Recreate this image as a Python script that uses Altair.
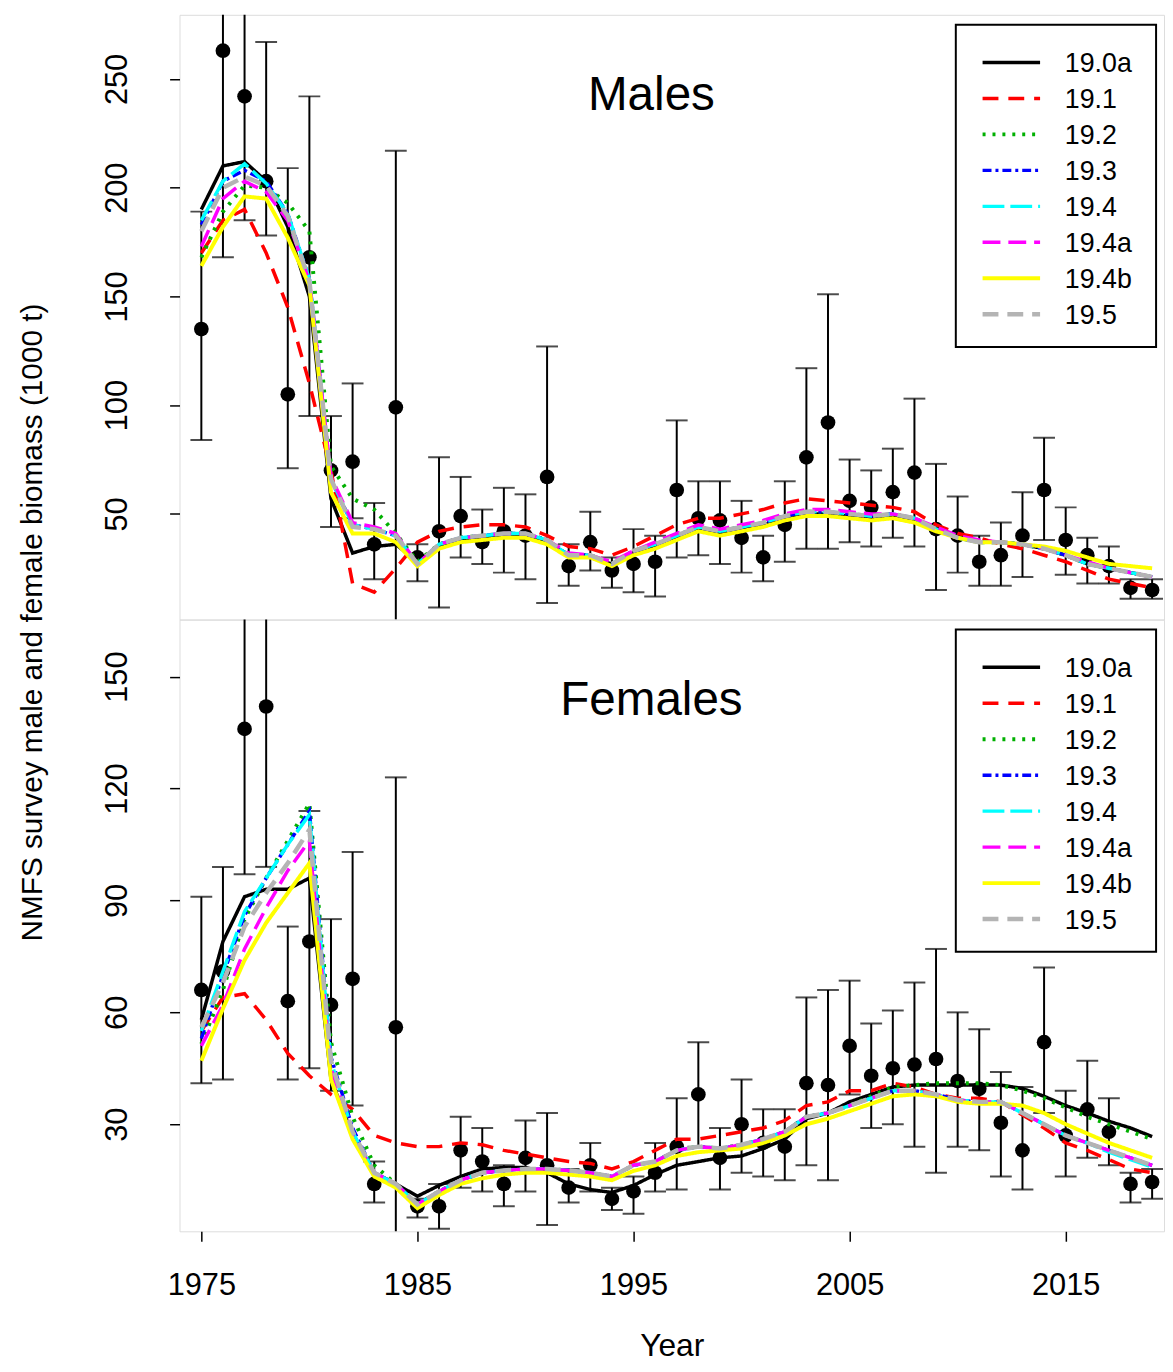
import altair as alt
import pandas as pd

years = list(range(1975, 2020))
names = ["19.0a", "19.1", "19.2", "19.3", "19.4", "19.4a", "19.4b", "19.5"]
colors = ["#000000", "#ff0000", "#00b000", "#0000ff", "#00ffff", "#ff00ff", "#ffff00", "#b4b4b4"]
dashes = [[1, 0], [16, 10], [3, 7], [9, 4, 3, 4], [22, 6], [18, 8], [1, 0], [16, 9]]
widths = [3.5, 3.5, 4, 3.5, 3.5, 3.5, 4, 4.5]

# Males survey observations and CIs
m_obs = [135, 263, 242, 203, 105, 168, 70, 74, 36, 99, 30, 42, 49, 37, 42, 40, 67, 26, 37, 24, 27, 28,
         61, 48, 47, 39, 30, 45, 76, 92, 56, 53, 60, 69, 43, 40, 28, 31, 40, 61, 38, 31, 26, 16, 15]
m_lo = [84, 168, 185, 178, 71, 95, 44, 48, 20, 0, 19, 7, 30, 27, 23, 20, 9, 17, 24, 16, 14, 12,
        30, 31, 27, 23, 19, 28, 34, 34, 37, 35, 39, 35, 15, 23, 17, 17, 21, 38, 22, 18, 18, 11, 11]
m_hi = [189, 300, 300, 267, 209, 242, 95, 110, 55, 217, 36, 76, 67, 52, 62, 59, 127, 36, 51, 30, 43, 40,
        93, 65, 65, 56, 40, 65, 117, 151, 75, 70, 80, 103, 73, 58, 40, 46, 60, 85, 53, 39, 35, 20, 20]

m_190a = [190, 210, 212, 203, 182, 150, 57, 32, 35, 36, 28, 35, 38, 39, 40, 40, 37, 31, 30, 27, 32, 35,
          39, 43, 41, 43, 45, 48, 50, 50, 49, 48, 49, 47, 43, 39, 37, 37, 36, 34, 31, 27, 25, 23, 21]
m_191 = [170, 185, 190, 170, 145, 110, 70, 18, 14, 25, 37, 42, 44, 45, 45, 44, 40, 35, 34, 31, 35, 40,
         45, 48, 48, 50, 52, 55, 57, 56, 55, 54, 53, 51, 45, 41, 39, 36, 34, 31, 28, 24, 20, 18, 16]
m_192 = [168, 189, 201, 200, 193, 180, 72, 57, 52, 41, 28, 36, 39, 40, 41, 41, 38, 31, 31, 27, 33, 36,
         40, 44, 42, 44, 46, 49, 51, 51, 50, 49, 50, 48, 43, 39, 37, 37, 36, 34, 31, 27, 25, 23, 21]
m_193 = [183, 203, 208, 203, 188, 158, 66, 45, 43, 40, 27, 36, 39, 40, 41, 41, 38, 31, 31, 27, 33, 36,
         40, 44, 42, 44, 46, 49, 51, 51, 50, 49, 50, 48, 43, 39, 37, 37, 36, 34, 31, 27, 25, 23, 21]
m_194 = [185, 203, 211, 202, 188, 158, 66, 45, 43, 40, 27, 36, 39, 40, 41, 41, 38, 31, 31, 27, 33, 36,
         40, 44, 42, 44, 46, 49, 51, 51, 50, 49, 50, 48, 43, 39, 37, 37, 36, 34, 31, 27, 25, 23, 21]
m_194a = [173, 195, 203, 198, 185, 157, 67, 46, 44, 41, 27, 36, 39, 40, 41, 41, 38, 32, 31, 28, 33, 37,
          41, 45, 43, 45, 47, 50, 52, 52, 51, 50, 50, 48, 44, 40, 38, 37, 36, 34, 31, 28, 25, 23, 21]
m_194b = [164, 182, 196, 195, 177, 155, 60, 41, 41, 37, 26, 34, 37, 38, 39, 39, 36, 30, 30, 26, 31, 34,
          38, 42, 40, 42, 44, 47, 49, 49, 48, 47, 48, 46, 42, 39, 37, 37, 36, 35, 33, 30, 27, 26, 25]
m_195 = [180, 200, 205, 201, 187, 157, 66, 44, 43, 40, 27, 36, 39, 40, 41, 41, 38, 31, 31, 27, 33, 36,
         40, 44, 42, 44, 46, 49, 51, 51, 50, 49, 50, 48, 43, 39, 37, 37, 36, 34, 31, 27, 25, 23, 21]

# Females
f_obs = [66, 71, 136, 142, 63, 79, 62, 69, 14, 56, 8, 8, 23, 20, 14, 21, 19, 13, 19, 10, 12, 17,
         24, 38, 21, 30, 25, 24, 41, 40.5, 51, 43, 45, 46, 47.5, 41.6, 39.5, 30.4, 23, 52, 27, 34, 28, 14, 14.5]
f_lo = [41, 42, 97, 99, 42, 45, 39, 35, 9, 0, 5, 2, 13, 12, 8, 12, 3, 9, 12, 7, 6, 12,
        12.5, 24, 12.5, 17, 16, 15, 19, 15, 38, 29, 30, 24, 17, 24, 23, 16, 12.5, 33, 16, 21, 19, 9, 10]
f_hi = [91, 99, 180, 180, 83, 114, 85, 103, 20, 123, 10, 14, 32, 29, 19, 31, 33, 18, 25, 13, 16, 25,
        37, 52, 29, 42, 34, 34, 64, 66, 68.5, 57, 60.5, 68, 77, 60, 55.5, 44, 40, 72, 39, 47, 37, 17, 18]

f_190a = [58, 79, 91, 93, 93, 96, 42, 27, 17, 14, 10.7, 13.6, 16, 18, 18.4, 18.4, 17, 14, 12.5, 11.7, 13.6, 16.5,
          19, 20, 21, 21.5, 23.5, 26, 31.5, 33, 36, 38, 40, 40.5, 40.5, 40.5, 40.5, 40.5, 39.6, 37.5, 35, 33, 30.8, 29, 26.7]
f_191 = [55, 64, 65, 58, 49, 43, 38, 34, 27, 25, 24, 24, 25, 24.5, 23, 22, 21, 20, 19.5, 18, 20, 23,
         26, 26, 27, 28, 29, 31, 35, 36, 39, 39, 41, 40, 38, 37, 37, 36, 32.5, 29, 25, 23, 20.5, 18, 17]
f_192 = [51.5, 66, 85, 96, 106, 116, 52, 32, 19, 14, 8.5, 12, 15, 17, 17.6, 18, 18, 17.6, 17, 16, 19, 20,
         23, 24, 23.5, 24.5, 26, 28, 32, 33, 35, 37.5, 40, 40.5, 41, 41, 41, 40.5, 39, 37, 34.5, 32, 30, 28, 26]
f_193 = [53, 70, 86, 96, 105, 114, 48, 29, 17, 14, 8.5, 12, 15, 17, 17.6, 18, 18, 17.6, 17, 16, 19, 20,
         23, 24, 23.5, 24.5, 26, 28, 32, 33, 35, 37, 39, 39, 38, 36.5, 36, 36, 33, 30, 27, 25, 23, 21, 19]
f_194 = [55, 71, 87, 96, 105, 113, 47, 28, 17, 14, 8.5, 12, 15, 17, 17.6, 18, 18, 17.6, 17, 16, 19, 20,
         23, 24, 23.5, 24.5, 26, 28, 32, 33, 35, 37, 39, 39, 38, 36.5, 36, 36, 33, 30, 27, 25, 22.5, 20.5, 18.5]
f_194a = [51, 62, 77, 88, 98, 106, 45, 27, 17, 14, 8.5, 12, 15, 17, 17.6, 18, 18, 17.6, 17, 16, 19, 20,
          23, 24, 23.5, 24.5, 26, 28, 32, 33, 35, 37, 39, 39, 38, 36.5, 36, 36, 33, 30, 27, 25, 23, 21, 19]
f_194b = [47, 61, 74, 84, 92, 100, 42, 26, 16, 13, 7.5, 11, 14, 15.5, 16.5, 17, 17, 16.5, 16, 15, 17.5, 19,
          21.5, 22.5, 23, 23.5, 25, 27, 30, 31.5, 33.5, 35.5, 37.5, 38, 37.5, 36, 35.5, 35.5, 35, 33, 30, 27.5, 25, 23, 21]
f_195 = [56, 68, 83, 92, 100, 109, 47, 28, 17, 14, 8.5, 12, 15, 17, 17.6, 18, 18, 17.6, 17, 16, 19, 20,
         23, 24, 23.5, 24.5, 26, 28, 32, 33, 35, 37, 39, 39, 38, 36.5, 36, 36, 33, 30, 27, 25, 23, 21, 19]

m_models = [m_190a, m_191, m_192, m_193, m_194, m_194a, m_194b, m_195]
f_models = [f_190a, f_191, f_192, f_193, f_194, f_194a, f_194b, f_195]

W, H1, H2 = 993, 610, 617
FONT = "Liberation Sans"
xdom = [1973.99, 2019.55]


def panel(obs, lo, hi, models, ydom, yticks, title, h, show_x, ylab):
    obs_df = pd.DataFrame({"year": years, "obs": obs, "lo": lo, "hi": hi})
    xenc = alt.X("year:Q", scale=alt.Scale(domain=xdom, nice=False, zero=False),
                 axis=alt.Axis(values=[1975, 1985, 1995, 2005, 2015], format="d", title="Year" if show_x else None,
                               labels=show_x, ticks=show_x, domain=False, grid=False,
                               labelFontSize=31, titleFontSize=32, tickSize=10, labelPadding=30,
                               titlePadding=30, tickColor="black", tickWidth=1.5, labelColor="black",
                               titleColor="black", titleFontWeight="normal", labelFont=FONT, titleFont=FONT))
    yscale = alt.Scale(domain=ydom, nice=False, zero=False)
    yaxis = alt.Axis(values=yticks, title=None, domain=False, grid=False, labelAngle=270,
                     labelAlign="center", labelBaseline="bottom", labelFontSize=31, tickSize=10,
                     labelPadding=36, tickColor="black", tickWidth=1.5, labelColor="black", labelFont=FONT)
    layers = []
    rows = []
    for n, vals in zip(names, models):
        for y, v in zip(years, vals):
            rows.append({"year": y, "val": v, "series": n})
    mdf = pd.DataFrame(rows)
    bars = alt.Chart(obs_df).mark_rule(color="black", strokeWidth=2, clip=True).encode(
        x=xenc, y=alt.Y("lo:Q", scale=yscale, axis=yaxis), y2="hi:Q")
    caps_lo = alt.Chart(obs_df).mark_tick(color="black", thickness=2, size=22, orient="horizontal", clip=True).encode(
        x="year:Q", y="lo:Q")
    caps_hi = alt.Chart(obs_df).mark_tick(color="black", thickness=2, size=22, orient="horizontal", clip=True).encode(
        x="year:Q", y="hi:Q")
    pts = alt.Chart(obs_df).mark_circle(color="black", opacity=1, size=220, clip=True).encode(
        x="year:Q", y="obs:Q")
    layers += [bars, caps_lo, caps_hi, pts]
    for i, n in enumerate(names):
        d = mdf[mdf.series == n]
        layers.append(alt.Chart(d).mark_line(color=colors[i], strokeDash=dashes[i], strokeWidth=widths[i],
                                             clip=True).encode(x="year:Q", y="val:Q"))
    one = pd.DataFrame({"a": [0]})
    layers.append(alt.Chart(one).mark_rect(fill="white", stroke="black", strokeWidth=2).encode(
        x=alt.value(783), x2=alt.value(985), y=alt.value(10), y2=alt.value(335)))
    for i, n in enumerate(names):
        yy = 48 + 36.3 * i
        layers.append(alt.Chart(one).mark_rule(color=colors[i], strokeDash=dashes[i], strokeWidth=widths[i]).encode(
            x=alt.value(810), x2=alt.value(868), y=alt.value(yy)))
        layers.append(alt.Chart(one).mark_text(text=n, align="left", baseline="middle", fontSize=27,
                                               font=FONT, color="black").encode(x=alt.value(893), y=alt.value(yy + 2)))
    layers.append(alt.Chart(one).mark_text(text=title, align="center", baseline="middle", fontSize=48,
                                           font=FONT, color="black").encode(x=alt.value(476), y=alt.value(82)))
    if ylab:
        layers.append(alt.Chart(one).mark_text(text="NMFS survey male and female biomass (1000 t)", angle=270,
                                               align="center", baseline="middle", fontSize=30, font=FONT,
                                               color="black").encode(x=alt.value(-148), y=alt.value(H1 + 3)))
    return alt.layer(*layers).properties(width=W, height=h)


top = panel(m_obs, m_lo, m_hi, m_models, [1.4, 279.5], [50, 100, 150, 200, 250], "Males", H1, False, True)
bot = panel(f_obs, f_lo, f_hi, f_models, [1.3, 165.3], [30, 60, 90, 120, 150], "Females", H2, True, False)

chart = alt.vconcat(top, bot, spacing=0, bounds="flush").properties(
    padding={"left": 9, "top": 0, "right": 0, "bottom": 0},
).configure_view(stroke="black", strokeWidth=2).configure(background="white")

chart.save("out.html", embed_options={"renderer": "svg", "actions": False})
